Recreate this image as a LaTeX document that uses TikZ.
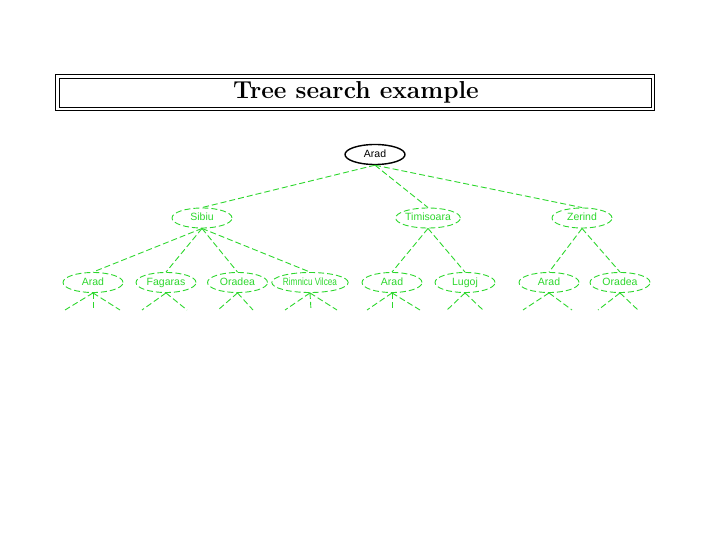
\documentclass[tikz,border=0pt]{standalone}
\usepackage{fontspec}
\setsansfont{Liberation Sans}
\definecolor{treegreen}{RGB}{45,215,45}
\usetikzlibrary{shapes.geometric}
\tikzset{
  stnode/.style={ellipse, draw=treegreen, dash pattern=on 6pt off 3pt, line width=0.9pt,
    minimum width=60pt, minimum height=20pt, inner sep=0pt, text=treegreen,
    text height=7.6pt, text depth=2.3pt,
    font=\sffamily\fontsize{10.5}{12}\selectfont},
  rootnode/.style={ellipse, draw=black, line width=1.4pt, minimum width=60pt, minimum height=20pt,
    inner sep=0pt, text height=7.6pt, text depth=2.3pt, font=\sffamily\fontsize{10.5}{12}\selectfont},
  tedge/.style={draw=treegreen, dash pattern=on 6pt off 3pt, line width=0.9pt},
  frame/.style={draw=black, line width=0.9pt}
}
\begin{document}
\begin{tikzpicture}[x=1pt,y=-1pt]
\useasboundingbox (0,0) rectangle (720,540);
% title
\draw[frame] (55,74) rectangle (654,110);
\draw[frame] (59,78) rectangle (651,107);
\node[font=\fontsize{24.5}{28}\selectfont\bfseries] (title) at (356,92) {Tree search example};
% nodes
\node[rootnode] (r) at (375,154.5) {Arad};
\node[stnode] (s) at (202,218) {Sibiu};
\node[stnode] (t) at (428,218) {Timisoara};
\node[stnode] (z) at (582,218) {Zerind};
\node[stnode] (a1) at (93,282.5) {Arad};
\node[stnode] (f) at (166,282.5) {Fagaras};
\node[stnode] (o1) at (237.5,282.5) {Oradea};
\node[stnode] (rv) at (310,282.5) {\scalebox{0.78}[1]{Rimnicu Vilcea}};
\node[stnode] (a2) at (392,282.5) {Arad};
\node[stnode] (l) at (465,282.5) {Lugoj};
\node[stnode] (a3) at (549,282.5) {Arad};
\node[stnode] (o2) at (620,282.5) {Oradea};
% leaf ends
\foreach \n/\x in {a1l/65,a1m/93,a1r/120,fl/142,fr/187,o1l/218,o1r/253,rvl/285,rvm/311,rvr/337,
  a2l/367,a2m/392,a2r/420,ll/447,lr/483,a3l/523,a3r/572,o2l/598,o2r/638}
  \coordinate (\n) at (\x,310);
% edges
\foreach \p/\c in {r/s,r/t,r/z,s/a1,s/f,s/o1,s/rv,t/a2,t/l,z/a3,z/o2}
  \draw[tedge] (\p.south) -- (\c.north);
\foreach \p/\c in {a1/a1l,a1/a1m,a1/a1r,f/fl,f/fr,o1/o1l,o1/o1r,rv/rvl,rv/rvm,rv/rvr,
  a2/a2l,a2/a2m,a2/a2r,l/ll,l/lr,a3/a3l,a3/a3r,o2/o2l,o2/o2r}
  \draw[tedge] (\p.south) -- (\c);
\end{tikzpicture}
\end{document}
